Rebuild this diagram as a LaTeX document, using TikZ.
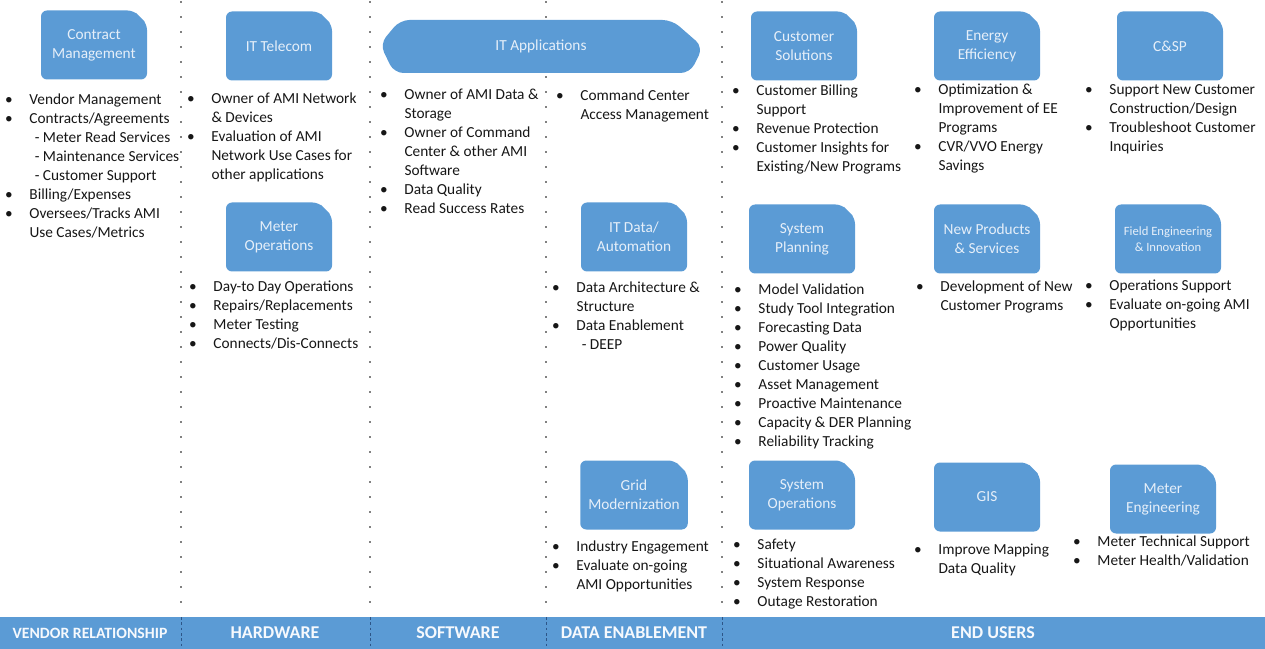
\documentclass[tikz,border=0pt]{standalone}
\usepackage{fontspec}
\setmainfont{Carlito}
\usetikzlibrary{shapes.misc}

\definecolor{boxblue}{RGB}{91,155,213}
\definecolor{boxtext}{RGB}{230,239,249}
\definecolor{bartext}{RGB}{246,249,253}
\definecolor{listtext}{RGB}{22,22,22}
\definecolor{bardivcol}{RGB}{45,85,135}

\newcommand{\bul}{\llap{\textbullet\hspace{12.5pt}}}

\tikzset{every picture/.style={line width=0.75pt}}
\tikzset{
  unitbox/.style={chamfered rectangle, chamfered rectangle corners=north east,
    chamfered rectangle xsep=5pt, chamfered rectangle ysep=5pt, rounded corners=4.5pt,
    fill=boxblue, text=boxtext, minimum width=79.5pt, minimum height=51.75pt,
    inner sep=1pt, align=center, font=\fontsize{11.5}{14.25}\selectfont},
  itemlist/.style={anchor=north west, inner sep=0pt, align=left, text=listtext,
    font=\fontsize{11.5}{14.25}\selectfont, execute at begin node=\rule{0pt}{9pt}},
  barlabel/.style={text=bartext, inner sep=0pt, font=\bfseries\fontsize{13.5}{16}\selectfont},
  sepdots/.style={black, line width=1.4pt, line cap=round, dash pattern=on 0pt off 11.25pt},
  bardiv/.style={bardivcol, line width=0.6pt, dash pattern=on 2pt off 2pt}
}

\begin{document}
\begin{tikzpicture}[x=0.75pt,y=0.75pt,yscale=-1,xscale=1]
\useasboundingbox (0,0) rectangle (1265,649);

%Shape: Bottom bar
\fill[boxblue] (0,617) rectangle (1265,649);

%Straight Lines: column separators
\foreach \sx in {181,370,546,722} {
  \draw[sepdots] (\sx,2) -- (\sx,612);
  \draw[bardiv] (\sx,617) -- (\sx,649);
}

%Shape: IT Applications banner
\fill[boxblue, rounded corners=7] (540,20) -- (672,20) -- (703,47) -- (690,73) -- (394,73) -- (380,44) -- (400,20) -- cycle;
\node[text=boxtext, font=\fontsize{11.5}{14.25}\selectfont] (itapps) at (541,46) {IT Applications};

% Unit boxes
\node[unitbox] (contract) at (94,45) {Contract\\Management};
\node[unitbox] (ittelecom) at (279,46) {IT Telecom};
\node[unitbox] (meterops) at (279,237) {Meter\\Operations};
\node[unitbox] (itdata) at (634,237) {IT Data/\\Automation};
\node[unitbox] (gridmod) at (634,495) {Grid\\Modernization};
\node[unitbox] (custsol) at (804,46) {Customer\\Solutions};
\node[unitbox] (energy) at (987,46) {Energy\\Efficiency};
\node[unitbox] (csp) at (1170,46) {C\&SP};
\node[unitbox] (sysplan) at (802,239) {System\\Planning};
\node[unitbox] (newprod) at (987,239) {New Products\\\& Services};
\node[unitbox, font=\fontsize{9.5}{12}\selectfont] (fieldeng) at (1168,239) {Field Engineering\\\& Innovation};
\node[unitbox] (sysops) at (802,495) {System\\Operations};
\node[unitbox] (gis) at (987,497) {GIS};
\node[unitbox] (metereng) at (1163,499) {Meter\\Engineering};

% Text Node: vendor relationship
\node[itemlist] (contractlist) at (29,93) {\bul Vendor Management\\
  \bul Contracts/Agreements\\
  \hspace*{4pt}- Meter Read Services\\
  \hspace*{4pt}- Maintenance Services\\
  \hspace*{4pt}- Customer Support\\
  \bul Billing/Expenses\\
  \bul Oversees/Tracks AMI\\
  Use Cases/Metrics};

% Text Node: hardware
\node[itemlist] (ittelecomlist) at (211,92) {\bul Owner of AMI Network\\
  \& Devices\\
  \bul Evaluation of AMI\\
  Network Use Cases for\\
  other applications};
\node[itemlist] (meteropslist) at (213,280) {\bul Day-to Day Operations\\
  \bul Repairs/Replacements\\
  \bul Meter Testing\\
  \bul Connects/Dis-Connects};

% Text Node: software
\node[itemlist] (itappslist) at (404,88) {\bul Owner of AMI Data \&\\
  Storage\\
  \bul Owner of Command\\
  Center \& other AMI\\
  Software\\
  \bul Data Quality\\
  \bul Read Success Rates};

% Text Node: data enablement
\node[itemlist] (commandlist) at (580,89) {\bul Command Center\\
  Access Management};
\node[itemlist] (itdatalist) at (576,281) {\bul Data Architecture \&\\
  Structure\\
  \bul Data Enablement\\
  \hspace*{4pt}- DEEP};
\node[itemlist] (gridmodlist) at (576,540) {\bul Industry Engagement\\
  \bul Evaluate on-going\\
  AMI Opportunities};

% Text Node: end users
\node[itemlist] (custsollist) at (756,84) {\bul Customer Billing\\
  Support\\
  \bul Revenue Protection\\
  \bul Customer Insights for\\
  Existing/New Programs};
\node[itemlist] (energylist) at (938,83) {\bul Optimization \&\\
  Improvement of EE\\
  Programs\\
  \bul CVR/VVO Energy\\
  Savings};
\node[itemlist] (csplist) at (1109,84) {\bul Support New Customer\\
  Construction/Design\\
  \bul Troubleshoot Customer\\
  Inquiries};
\node[itemlist] (sysplanlist) at (758,283) {\bul Model Validation\\
  \bul Study Tool Integration\\
  \bul Forecasting Data\\
  \bul Power Quality\\
  \bul Customer Usage\\
  \bul Asset Management\\
  \bul Proactive Maintenance\\
  \bul Capacity \& DER Planning\\
  \bul Reliability Tracking};
\node[itemlist] (newprodlist) at (940,280) {\bul Development of New\\
  Customer Programs};
\node[itemlist] (fieldenglist) at (1109,279) {\bul Operations Support\\
  \bul Evaluate on-going AMI\\
  Opportunities};
\node[itemlist] (sysopslist) at (757,538) {\bul Safety\\
  \bul Situational Awareness\\
  \bul System Response\\
  \bul Outage Restoration};
\node[itemlist] (gislist) at (938,543) {\bul Improve Mapping\\
  Data Quality};
\node[itemlist] (meterenglist) at (1097,535) {\bul Meter Technical Support\\
  \bul Meter Health/Validation};

% Text Node: bar labels
\node[barlabel, font=\bfseries\fontsize{11.8}{14}\selectfont] (vendorlbl) at (90,633) {VENDOR RELATIONSHIP};
\node[barlabel] (hardwarelbl) at (275,633) {HARDWARE};
\node[barlabel] (softwarelbl) at (458,633) {SOFTWARE};
\node[barlabel] (datalbl) at (634,633) {DATA ENABLEMENT};
\node[barlabel] (enduserslbl) at (993,633) {END USERS};

\end{tikzpicture}
\end{document}
